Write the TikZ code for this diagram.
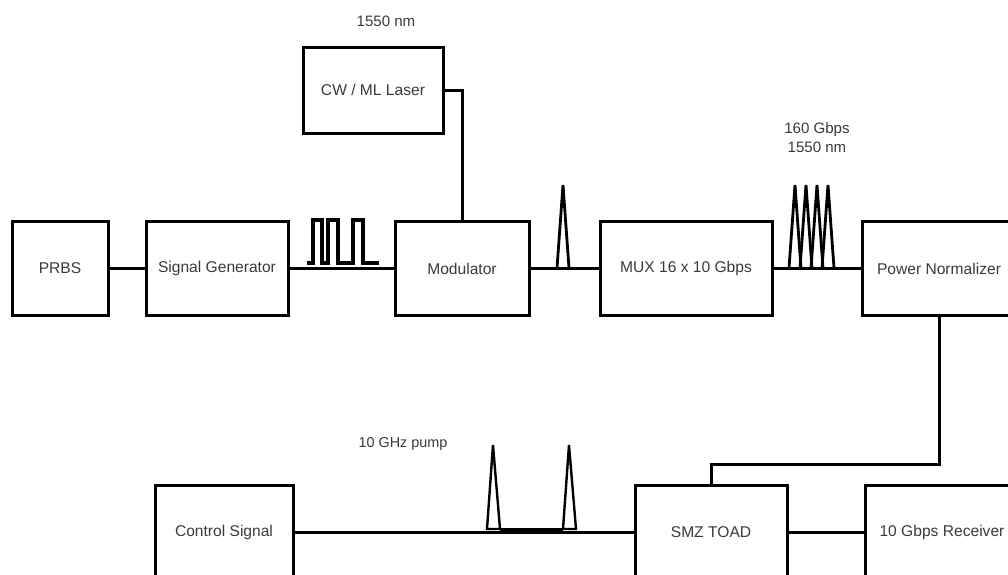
\documentclass[tikz,border=0pt]{standalone}
\usepackage{fontspec}
\setmainfont{Liberation Sans}
\definecolor{labelgray}{HTML}{3A3A3A}
\tikzset{
  block/.style={draw=black,line width=2.25pt,outer sep=0pt,inner sep=0pt,align=center,text=labelgray,font=\fontsize{11.7}{14}\selectfont},
  caption/.style={inner sep=0pt,align=center,text=labelgray,font=\fontsize{11.3}{14.2}\selectfont},
  link/.style={line width=2.25pt,line join=miter},
  pulse/.style={line width=2.1pt,line join=miter}
}
\newcommand{\blk}[6]{\node[block,minimum width=#5*0.75pt,minimum height=#6*0.75pt] (#1) at (#3,#4) {#2};}
\begin{document}
\begin{tikzpicture}[x=0.75pt,y=-0.75pt]
\useasboundingbox (0,0) rectangle (1008,575);
\clip (0,0) rectangle (1008,575);
\blk{prbs}{PRBS}{60}{268.5}{96}{94}
\blk{sg}{Signal Generator}{217}{268.5}{142}{94}
\blk{mod}{Modulator}{462}{268.5}{134}{94}
\blk{mux}{MUX 16 x 10 Gbps}{686}{268.5}{172}{94}
\blk{pn}{Power Normalizer}{939}{268.5}{154}{94}
\blk{laser}{CW / ML Laser}{373}{90}{140}{86}
\blk{ctrl}{Control Signal}{224}{532}{138}{94}
\blk{smz}{SMZ TOAD}{711}{532}{152}{94}
\blk{rx}{10 Gbps Receiver}{942}{532}{154}{94}
\node[caption] (l1) at (386,21) {1550 nm};
\node[caption] (l2) at (817,138) {160 Gbps\\1550 nm};
\node[caption,font=\fontsize{10.8}{14}\selectfont] (l3) at (403,444) {10 GHz pump};
\coordinate (bend) at (939,464);
\draw[link] (prbs) -- (sg);
\draw[link] (sg) -- (mod);
\draw[link] (mod) -- (mux);
\draw[link] (mux) -- (pn);
\draw[link] (laser.east) -| (mod.north);
\draw[link] (pn.south) -- (bend) -| (smz.north);
\draw[link] (ctrl) -- (smz);
\draw[link] (smz) -- (rx);
% pulse sketches
\draw[pulse,line width=2.3pt] (307,263) -- (313,263) -- (313,220) -- (322,220) -- (322,263) -- (328,263) -- (328,220) -- (338,220) -- (338,263) -- (353,263) -- (353,220) -- (363,220) -- (363,263) -- (379,263);
\draw[pulse] (557,268) -- (563,185) -- (569,268);
\foreach \a in {795,806,817,828}
  \draw[pulse] (\a-6,268) -- (\a,185) -- (\a+6,268);
\draw[pulse,line width=1.8pt] (487,529) -- (493,445) -- (500,529) -- cycle;
\draw[pulse,line width=1.8pt] (563,529) -- (569,445) -- (576,529) -- cycle;
\fill (500,528) rectangle (563,533);
\end{tikzpicture}
\end{document}
